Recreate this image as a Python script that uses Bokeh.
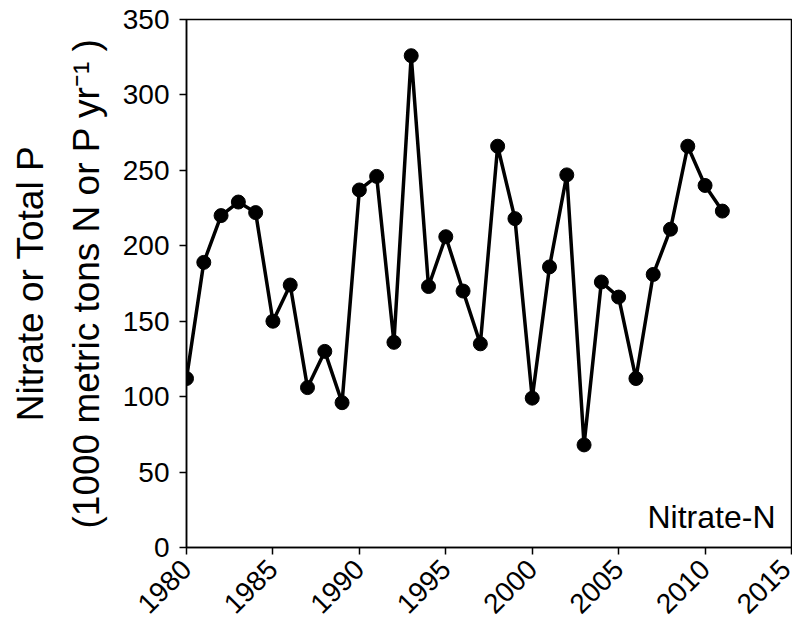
import math

from bokeh.embed import file_html
from bokeh.models import ColumnDataSource, FixedTicker, Label, Range1d, Title
from bokeh.plotting import figure
from bokeh.resources import INLINE

# Annual nitrate-N flux, 1000 metric tons N per year
years = list(range(1980, 2012))
nitrate_n = [112, 189, 220, 229, 222, 150, 174, 106, 130, 96,
             237, 246, 136, 326, 173, 206, 170, 135, 266, 218,
             99, 186, 247, 68, 176, 166, 112, 181, 211, 266,
             240, 223]

x_ticks = [1980, 1985, 1990, 1995, 2000, 2005, 2010, 2015]
y_ticks = [0, 50, 100, 150, 200, 250, 300, 350]
series_name = "Nitrate-N"
title_line1 = "Nitrate or Total P"
title_line2 = "(1000 metric tons N or P yr\u207b\u00b9 )"

FONT = "Liberation Sans"

source = ColumnDataSource(data=dict(year=years, flux=nitrate_n))

p = figure(
    width=792, height=627,
    x_range=Range1d(1980, 2015), y_range=Range1d(0, 350),
    output_backend="svg", toolbar_location=None,
    min_border_left=186, min_border_right=1,
    min_border_top=19, min_border_bottom=80,
)
p.background_fill_color = "white"
p.border_fill_color = "white"
p.outline_line_color = "black"
p.outline_line_width = 1.5
p.grid.visible = False

for ax in (p.xaxis[0], p.yaxis[0]):
    ax.axis_line_color = "black"
    ax.axis_line_width = 1.5
    ax.major_tick_line_color = "black"
    ax.major_tick_line_width = 1.5
    ax.major_tick_in = 0
    ax.major_tick_out = 7
    ax.minor_tick_line_color = None
    ax.major_label_text_font = FONT
    ax.major_label_text_font_size = "28px"
    ax.major_label_text_color = "black"

p.xaxis.ticker = FixedTicker(ticks=x_ticks)
p.yaxis.ticker = FixedTicker(ticks=y_ticks)
p.xaxis.major_label_orientation = math.pi / 4
p.xaxis.major_label_standoff = 10
p.yaxis.major_label_standoff = 10

p.line("year", "flux", source=source, line_color="black", line_width=3.5)
p.scatter("year", "flux", source=source, size=14, fill_color="black",
          line_color="black")

# Two-line y-axis title: inner line first, outer line stacked beyond it
p.add_layout(Title(text=title_line2, align="center", offset=-28,
                   text_font=FONT, text_font_size="37px",
                   text_font_style="normal", text_color="black",
                   standoff=26), "left")
p.add_layout(Title(text=title_line1, align="center",
                   text_font=FONT, text_font_size="37px",
                   text_font_style="normal", text_color="black",
                   standoff=0), "left")

# Series name in the lower-right corner of the frame
p.add_layout(Label(x=2015, y=0, x_offset=-16, y_offset=31, text=series_name,
                   text_align="right", text_baseline="alphabetic",
                   text_font=FONT, text_font_size="32px", text_color="black"))

open("out.html", "w").write(file_html(p, INLINE))
